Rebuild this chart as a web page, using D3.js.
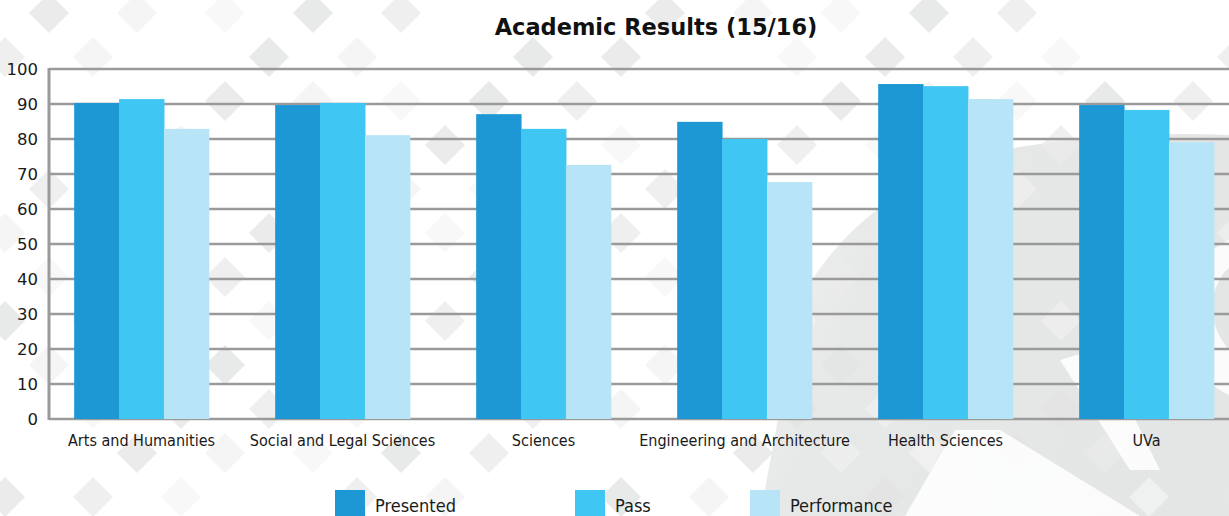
<!DOCTYPE html>
<html>
<head>
<meta charset="utf-8">
<script src="https://cdn.jsdelivr.net/npm/d3@7"></script>
<style>
  html, body { margin: 0; padding: 0; background: #fff; }
  svg { display: block; }
</style>
</head>
<body>
<div id="chart"></div>
<script>
//data to display
const categories = ['Arts and Humanities', 'Social and Legal Sciences', 'Sciences',
    'Engineering and Architecture', 'Health Sciences', 'UVa'];
const seriesNames = ['Presented', 'Pass', 'Performance'];
const presented = [90.3, 89.7, 87.1, 84.9, 95.7, 89.7];
const pass = [91.4, 90.3, 82.9, 80.0, 95.1, 88.3];
const performance = [82.9, 81.1, 72.6, 67.7, 91.4, 79.1];
const yTicks = [0, 10, 20, 30, 40, 50, 60, 70, 80, 90, 100];
const title = 'Academic Results (15/16)';

//Measures
const width = 1229;
const height = 516;
const plotLeft = 49;
const plotTop = 69;
const plotBottom = 419;

//Colors
const seriesColors = ['#1e98d5', '#40c6f3', '#b8e4f8'];
const lineColor = '#9a9a9a';
const textColor = '#1a1a1a';

const svg = d3.select('#chart').append('svg')
    .attr('width', width)
    .attr('height', height);

drawBackground(svg);
drawChart(svg);

//decorative background: watermark area and diamond pattern
function drawBackground(svg) {
    const bg = svg.append('g');
    const defs = svg.append('defs');
    const grad = defs.append('linearGradient')
        .attr('id', 'wm')
        .attr('x1', 0).attr('y1', 0).attr('x2', 1).attr('y2', 0.3);
    grad.append('stop').attr('offset', '0%').attr('stop-color', '#f4f4f4');
    grad.append('stop').attr('offset', '30%').attr('stop-color', '#e7e8e8');
    grad.append('stop').attr('offset', '100%').attr('stop-color', '#e4e5e5');

    bg.append('path')
        .attr('d', 'M760,516 L800,300 Q860,190 1000,150 Q1120,130 1229,135 L1229,516 Z')
        .attr('fill', 'url(#wm)');

    const shades = ['#e2e3e3', '#f2f2f2', 'none', '#ebebeb', '#f6f6f6', '#e6e6e6', 'none'];
    const step = 44;
    for (let j = 0; j < 13; j++) {
        for (let k = 0; k < 30; k++) {
            if ((k + j) % 2 === 0) continue;
            const shade = shades[(k * 5 + j * 3 + (k * j) % 4) % shades.length];
            if (shade === 'none') continue;
            const cx = 5 + k * step;
            const cy = 13 + j * step;
            bg.append('path')
                .attr('d', `M${cx},${cy - 20}L${cx + 20},${cy}L${cx},${cy + 20}L${cx - 20},${cy}Z`)
                .attr('fill', shade)
                .attr('opacity', cx > 800 && cy > 180 ? 0.6 : 0.8);
        }
    }

    // white strokes of the watermark logo
    bg.append('path')
        .attr('d', 'M905,516 L955,430 L1000,430 L1140,516 Z ' +
            'M1060,360 L1100,348 L1160,470 L1130,470 Z ' +
            'M1229,240 Q1170,270 1180,330 Q1195,380 1229,395 L1229,350 Q1205,320 1215,290 Q1222,272 1229,268 Z')
        .attr('fill', '#ffffff')
        .attr('opacity', 0.85);
}

function drawChart(svg) {
    const x0 = d3.scaleBand()
        .domain(categories)
        .range([41, 1247])
        .paddingInner(0.33)
        .paddingOuter(0.165);

    const x1 = d3.scaleBand()
        .domain(seriesNames)
        .range([0, x0.bandwidth()]);

    const y = d3.scaleLinear()
        .domain([0, 100])
        .range([plotBottom, plotTop]);

    const color = d3.scaleOrdinal()
        .domain(seriesNames)
        .range(seriesColors);

    // grid lines
    svg.append('g')
        .selectAll('line')
        .data(yTicks)
        .join('line')
        .attr('x1', plotLeft)
        .attr('x2', width)
        .attr('y1', d => y(d))
        .attr('y2', d => y(d))
        .attr('stroke', lineColor)
        .attr('stroke-width', 2.5);

    // y axis line
    svg.append('line')
        .attr('x1', plotLeft).attr('x2', plotLeft)
        .attr('y1', plotTop - 1).attr('y2', plotBottom + 1)
        .attr('stroke', lineColor)
        .attr('stroke-width', 3);

    // y tick labels
    const yAxis = d3.axisLeft(y)
        .tickValues(yTicks)
        .tickSize(0)
        .tickPadding(11);
    const yg = svg.append('g')
        .attr('transform', `translate(${plotLeft},0)`)
        .call(yAxis);
    yg.select('.domain').remove();
    yg.selectAll('text')
        .attr('font-family', 'DejaVu Sans')
        .attr('font-size', 16.5)
        .attr('fill', textColor);

    // bars
    const rows = categories.map((c, i) => ({
        category: c,
        values: [presented[i], pass[i], performance[i]]
    }));

    const groups = svg.append('g')
        .selectAll('g')
        .data(rows)
        .join('g')
        .attr('transform', d => `translate(${x0(d.category)},0)`);

    groups.selectAll('rect')
        .data(d => d.values.map((v, i) => ({ series: seriesNames[i], value: v })))
        .join('rect')
        .attr('x', d => x1(d.series))
        .attr('y', d => y(d.value))
        .attr('width', x1.bandwidth() + 0.5)
        .attr('height', d => y(0) - y(d.value))
        .attr('fill', d => color(d.series));

    // x axis labels
    const xAxis = d3.axisBottom(x0)
        .tickSize(0)
        .tickPadding(16);
    const xg = svg.append('g')
        .attr('transform', `translate(0,${plotBottom})`)
        .call(xAxis);
    xg.select('.domain').remove();
    xg.selectAll('text')
        .attr('font-family', 'DejaVu Sans Condensed')
        .attr('font-size', 16)
        .attr('fill', textColor);

    // title
    svg.append('text')
        .text(title)
        .attr('x', 656)
        .attr('y', 35)
        .attr('text-anchor', 'middle')
        .attr('font-family', 'DejaVu Sans')
        .attr('font-weight', 'bold')
        .attr('font-size', 22.5)
        .attr('fill', '#111');

    // legend
    const legendX = d3.scaleOrdinal()
        .domain(seriesNames)
        .range([335, 575, 750]);
    const legend = svg.append('g')
        .selectAll('g')
        .data(seriesNames)
        .join('g')
        .attr('transform', d => `translate(${legendX(d)},490)`);
    legend.append('rect')
        .attr('width', 30)
        .attr('height', 30)
        .attr('fill', d => color(d));
    legend.append('text')
        .text(d => d)
        .attr('x', 40)
        .attr('y', 22)
        .attr('font-family', 'DejaVu Sans Condensed')
        .attr('font-size', 18)
        .attr('fill', textColor);
}
</script>
</body>
</html>
